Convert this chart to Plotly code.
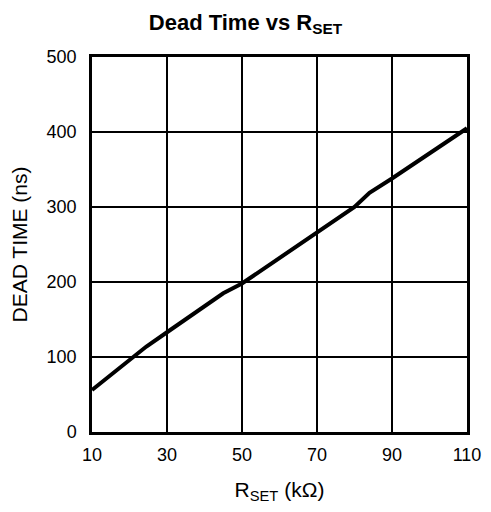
import plotly.graph_objects as go

r_set = [10, 21, 24.5, 30, 45, 50, 70, 80, 84, 90, 110]
dead_time = [56, 100, 114, 133, 185, 198, 265, 300, 319, 338, 405]
x_ticks = [10, 30, 50, 70, 90, 110]
y_ticks = [0, 100, 200, 300, 400, 500]

fig = go.Figure()
fig.add_trace(go.Scatter(x=r_set, y=dead_time, mode="lines",
                         line=dict(color="black", width=4), showlegend=False))

fam = "Liberation Sans, Arial, sans-serif"
tick_font = dict(family=fam, size=18, color="black")
title_font = dict(family=fam, size=21, color="black")
fig.update_layout(
    width=475, height=496,
    margin=dict(l=84, r=16, t=49, b=72, autoexpand=False),
    paper_bgcolor="white", plot_bgcolor="white",
    font=tick_font,
    title=dict(text="<b>Dead Time vs R<sub>SET</sub></b>", x=0.5, xanchor="center",
               y=0.972, yanchor="middle", automargin=False,
               font=dict(size=22, family=fam, color="black")),
)
fig.update_xaxes(range=[10, 110], tickvals=x_ticks, ticks="outside", ticklen=0,
                 ticklabelstandoff=5, tickfont=tick_font, automargin=False,
                 showgrid=True, gridcolor="black", gridwidth=1.5,
                 showline=True, linecolor="black", linewidth=2.5, mirror=True,
                 zeroline=False,
                 title=dict(text="R<sub>SET</sub> (kΩ)", standoff=20, font=title_font))
fig.update_yaxes(range=[0, 500], tickvals=y_ticks, ticks="outside", ticklen=0,
                 ticklabelstandoff=9, tickfont=tick_font, automargin=False,
                 showgrid=True, gridcolor="black", gridwidth=1.5,
                 showline=True, linecolor="black", linewidth=2.5, mirror=True,
                 zeroline=False,
                 title=dict(text="DEAD TIME (ns)", standoff=26, font=title_font))
fig.write_html("out.html")
